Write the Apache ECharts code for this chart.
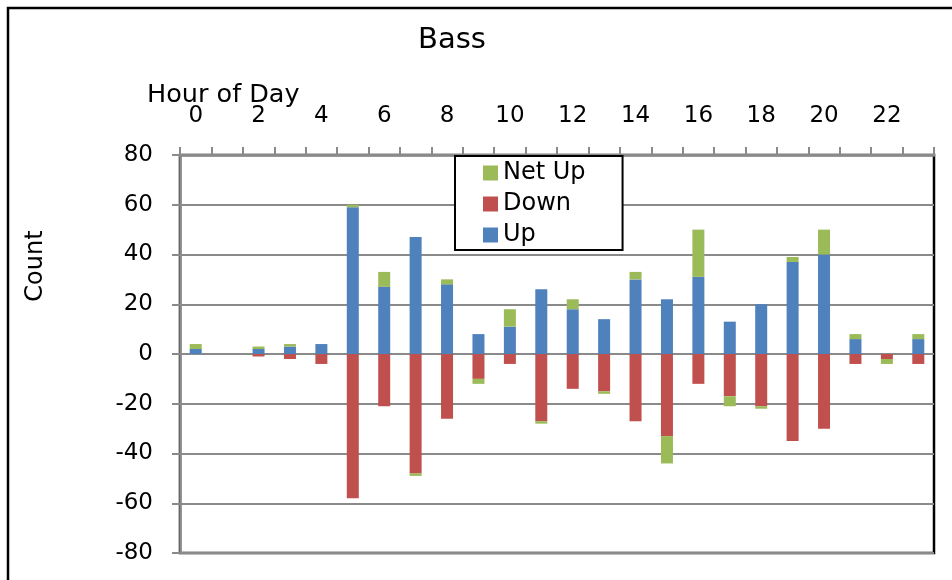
<!DOCTYPE html>
<html>
<head>
<meta charset="utf-8">
<script src="https://cdn.jsdelivr.net/npm/echarts@6/dist/echarts.min.js"></script>
<style>
  html, body { margin: 0; padding: 0; background: #fff; }
  #chart { width: 952px; height: 580px; }
</style>
</head>
<body>
<div id="chart"></div>
<script>
// Hourly counts for bass: fish moving up, moving down, and the net
const hours = ['0','1','2','3','4','5','6','7','8','9','10','11','12','13','14','15','16','17','18','19','20','21','22','23'];
const upCounts   = [2, 0, 2, 3, 4, 59, 27, 47, 28, 8, 11, 26, 18, 14, 30, 22, 31, 13, 20, 37, 40, 6, 0, 6];
const downCounts = [0, 0, -1, -2, -4, -58, -21, -48, -26, -10, -4, -27, -14, -15, -27, -33, -12, -17, -21, -35, -30, -4, -2, -4];
const netUp      = [2, 0, 1, 1, 0, 1, 6, -1, 2, -2, 7, -1, 4, -1, 3, -11, 19, -4, -1, 2, 10, 2, -2, 2];
const countTicks = { min: -80, max: 80, step: 20 };

const FONT = 'DejaVu Sans';
const GRID_GRAY = '#8a8a8a';

const chart = echarts.init(document.getElementById('chart'), null, { renderer: 'canvas' });

chart.setOption({
  animation: false,
  backgroundColor: '#fff',
  title: [
    {
      text: 'Bass',
      left: 413, top: 21,
      textStyle: { fontFamily: FONT, fontSize: 29, fontWeight: 'normal', color: '#000' }
    },
    {
      text: 'Hour of Day',
      left: 142, top: 77,
      textStyle: { fontFamily: FONT, fontSize: 25.5, fontWeight: 'normal', color: '#000' }
    }
  ],
  legend: {
    orient: 'vertical',
    left: 455, top: 156,
    data: ['Net Up', 'Down', 'Up'],
    itemWidth: 15, itemHeight: 15, itemGap: 7,
    icon: 'rect',
    padding: [5, 37, 3, 28],
    backgroundColor: '#fff',
    borderColor: '#000', borderWidth: 2,
    textStyle: { fontFamily: FONT, fontSize: 24, color: '#000' },
    z: 10
  },
  grid: {
    left: 180, right: 18, top: 155, bottom: 27,
    show: true, borderColor: '#000', borderWidth: 2.5, backgroundColor: 'transparent'
  },
  xAxis: {
    type: 'category',
    position: 'top',
    data: hours,
    axisLine: { onZero: false, lineStyle: { color: GRID_GRAY, width: 2.5 } },
    axisTick: { show: true, inside: false, length: 8, interval: 0, lineStyle: { color: GRID_GRAY, width: 2 } },
    axisLabel: { interval: 1, margin: 27, fontFamily: FONT, fontSize: 23, color: '#000' },
    splitLine: { show: false }
  },
  yAxis: {
    type: 'value',
    min: countTicks.min, max: countTicks.max, interval: countTicks.step,
    axisLine: { show: true, lineStyle: { color: GRID_GRAY, width: 2.5 } },
    axisTick: { show: true, length: 8, lineStyle: { color: GRID_GRAY, width: 2 } },
    axisLabel: { margin: 27, fontFamily: FONT, fontSize: 23, color: '#000' },
    splitLine: { show: true, lineStyle: { color: GRID_GRAY, width: 2 } }
  },
  graphic: [
    {
      type: 'rect',
      shape: { x: 8, y: 8, width: 1000, height: 700 },
      style: { fill: 'none', stroke: '#000', lineWidth: 2.5 },
      silent: true
    },
    {
      type: 'text',
      x: 36, y: 266,
      rotation: Math.PI / 2,
      style: {
        text: 'Count', fontFamily: FONT, fontSize: 24, fill: '#000',
        textAlign: 'center', textVerticalAlign: 'middle'
      }
    }
  ],
  series: [
    {
      name: 'Up', type: 'bar', stack: 'total', barWidth: 12,
      itemStyle: { color: '#4F81BD' },
      data: upCounts
    },
    {
      name: 'Down', type: 'bar', stack: 'total', barWidth: 12,
      itemStyle: { color: '#C0504D' },
      data: downCounts
    },
    {
      name: 'Net Up', type: 'bar', stack: 'total', barWidth: 12,
      itemStyle: { color: '#9BBB59' },
      data: netUp
    }
  ]
});
</script>
</body>
</html>
